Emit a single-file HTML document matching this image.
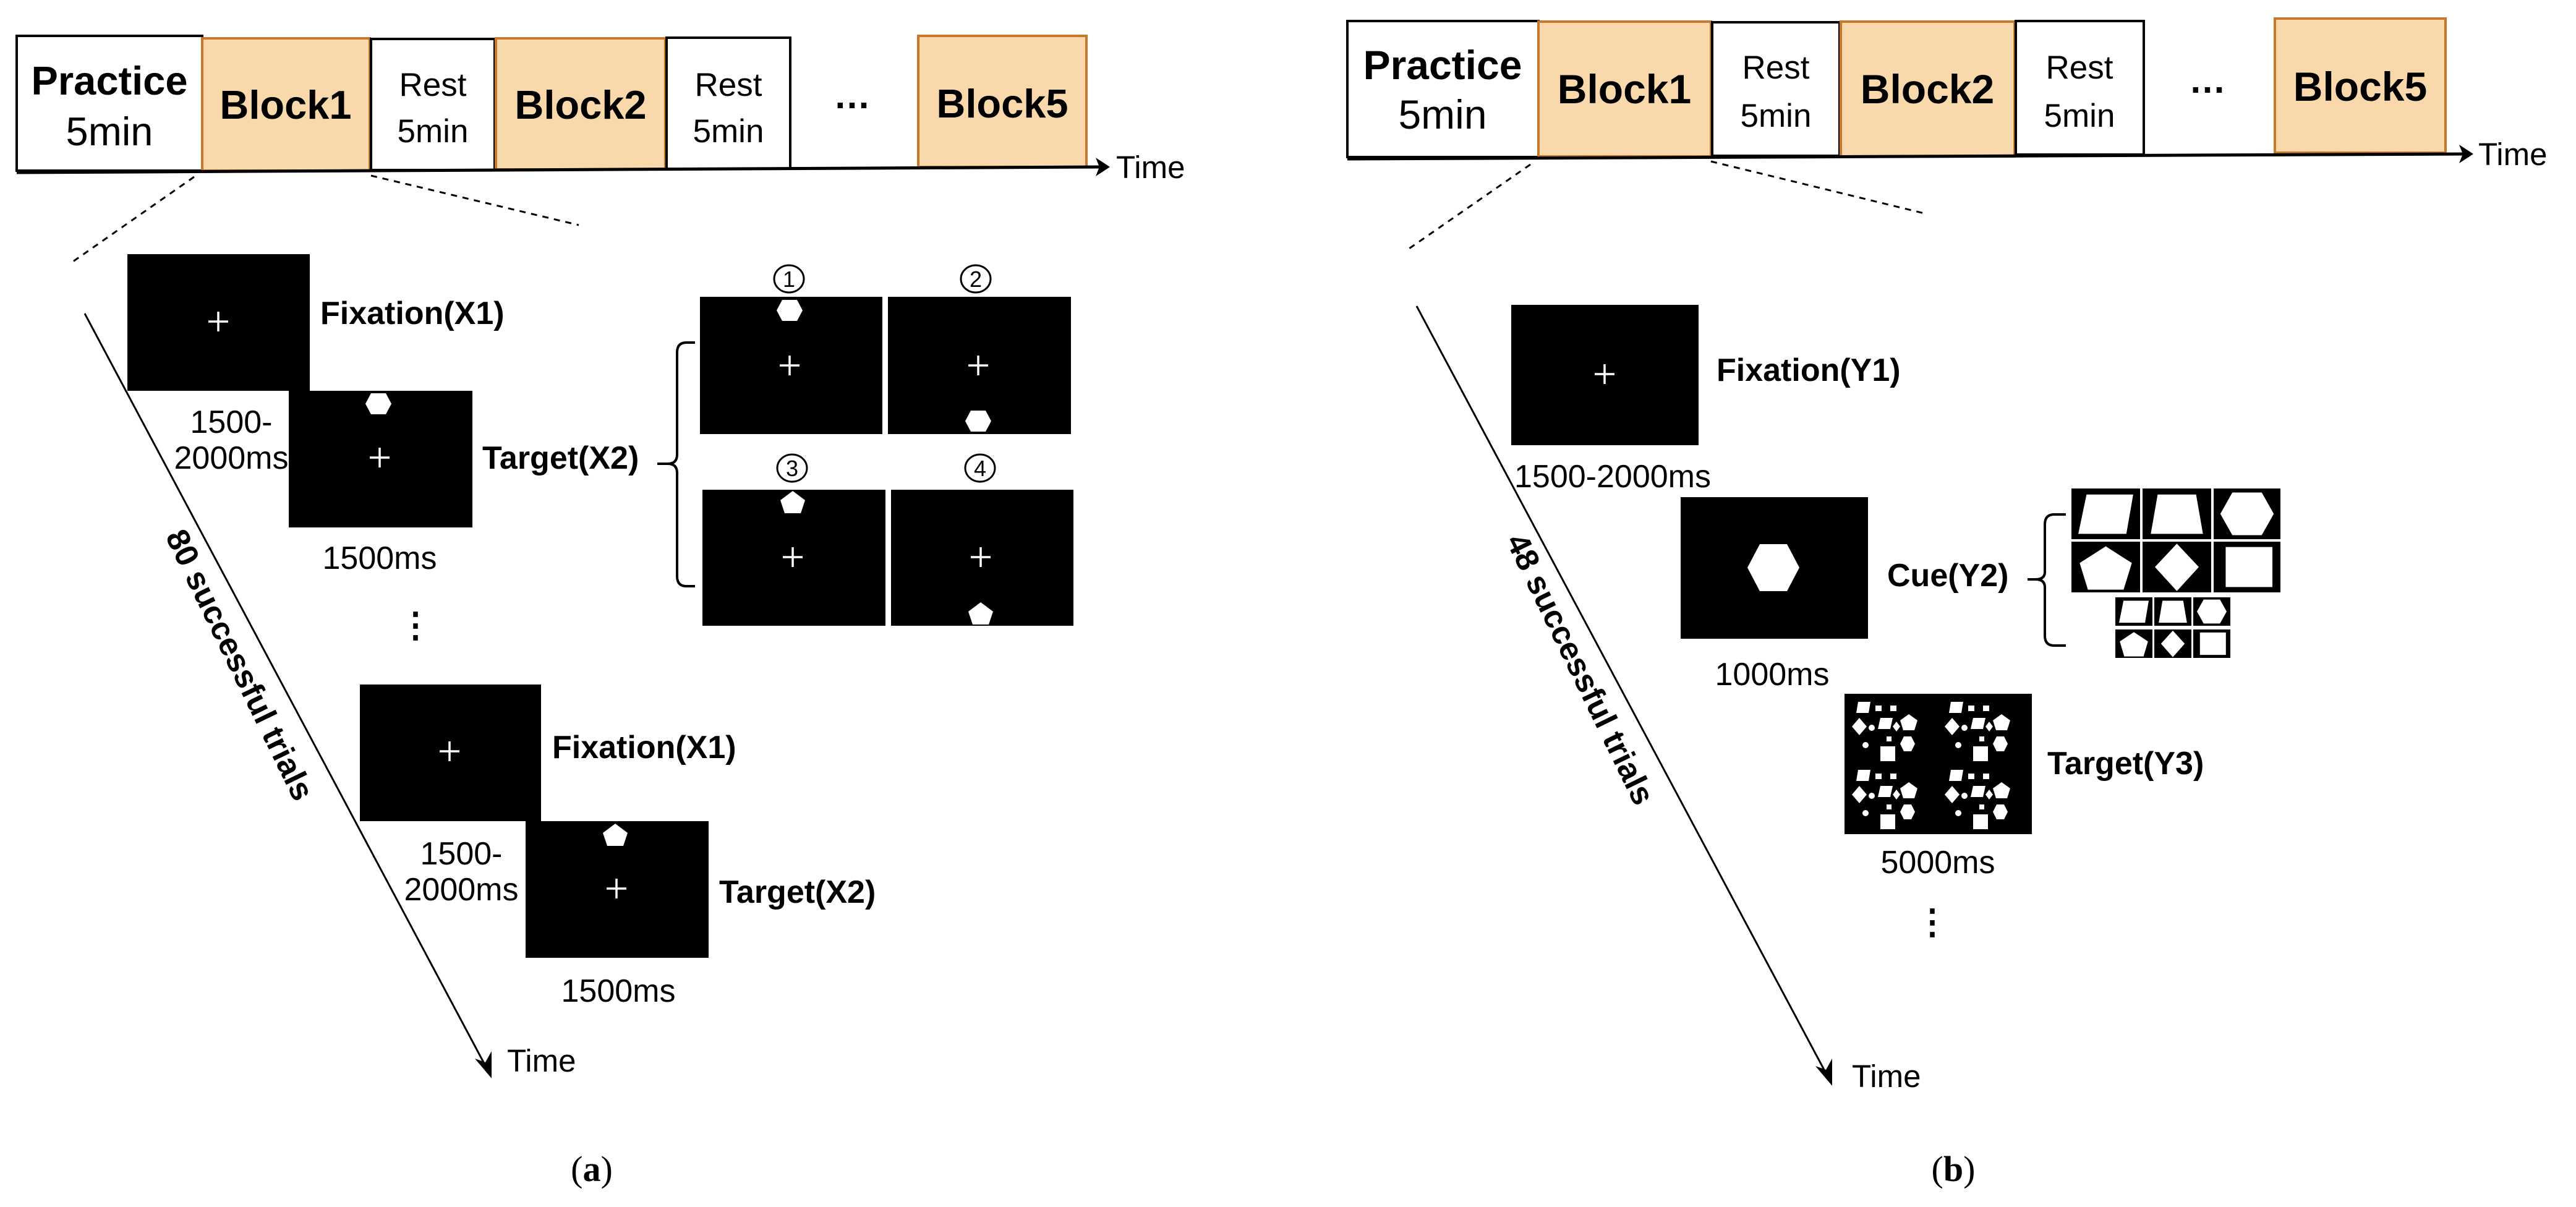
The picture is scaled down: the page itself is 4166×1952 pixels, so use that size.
<!DOCTYPE html>
<html><head><meta charset="utf-8"><style>
html,body{margin:0;padding:0;background:#fff;}
svg{display:block;}
text{font-family:"Liberation Sans",Arial,sans-serif;fill:#000;}
.b{font-weight:bold;}
.ser{font-family:"Liberation Serif",serif;}
</style></head><body>
<svg width="4166" height="1952" viewBox="0 0 4166 1952" xmlns="http://www.w3.org/2000/svg">
<defs>
<marker id="ah" viewBox="0 0 10 10" refX="9" refY="5" markerWidth="10" markerHeight="10" markerUnits="userSpaceOnUse" orient="auto">
</marker>
<g id="plus"><line x1="-16" y1="0" x2="16" y2="0" stroke="#fff" stroke-width="3.5"/><line x1="0" y1="-16" x2="0" y2="16" stroke="#fff" stroke-width="3.5"/></g>
<polygon id="hex" points="-12,-17 12,-17 21,0 12,17 -12,17 -21,0" fill="#fff"/>
<polygon id="pent" points="0,-18 20,-3 13,18 -13,18 -20,-3" fill="#fff"/>
<symbol id="c1" viewBox="0 0 100 76" preserveAspectRatio="none"><rect width="100" height="76" fill="#000"/><polygon points="22,9 90,9 80,68 10,68" fill="#fff"/></symbol>
<symbol id="c2" viewBox="0 0 100 76" preserveAspectRatio="none"><rect width="100" height="76" fill="#000"/><polygon points="22,9 78,9 88,68 12,68" fill="#fff"/></symbol>
<symbol id="c3" viewBox="0 0 100 76" preserveAspectRatio="none"><rect width="100" height="76" fill="#000"/><polygon points="28,6 72,6 90,38 72,70 28,70 10,38" fill="#fff"/></symbol>
<symbol id="c4" viewBox="0 0 100 76" preserveAspectRatio="none"><rect width="100" height="76" fill="#000"/><polygon points="50,7 88,32 76,72 24,72 12,32" fill="#fff"/></symbol>
<symbol id="c5" viewBox="0 0 100 76" preserveAspectRatio="none"><rect width="100" height="76" fill="#000"/><polygon points="50,3 82,38 50,74 18,38" fill="#fff"/></symbol>
<symbol id="c6" viewBox="0 0 100 76" preserveAspectRatio="none"><rect width="100" height="76" fill="#000"/><polygon points="18,8 88,8 88,68 18,68" fill="#fff"/></symbol>
<g id="cluster" fill="#fff">
<polygon points="10,0 30,0 27,18 7,18"/><rect x="38" y="6" width="10" height="9"/><rect x="62" y="6" width="10" height="9"/>
<polygon points="0,40 12,26 24,40 12,54"/><circle cx="32" cy="42" r="5"/><polygon points="46,26 66,26 62,44 42,44"/><polygon points="72,32 78,40 72,48 66,40"/>
<polygon points="92,20 106,30 101,46 83,46 78,30"/><circle cx="22" cy="70" r="5"/><rect x="56" y="56" width="8" height="8"/>
<polygon points="84,56 96,56 102,68 96,80 84,80 78,68"/><rect x="46" y="72" width="24" height="24"/>
</g>
</defs>

<!-- ============ LEFT (a) ============ -->
<!-- top bar -->
<rect x="27" y="58" width="300" height="218" fill="#fff" stroke="#000" stroke-width="4"/>
<rect x="327" y="62" width="271" height="214" fill="#f9d8ac" stroke="#c8782a" stroke-width="4"/>
<rect x="600" y="63" width="200" height="212" fill="#fff" stroke="#000" stroke-width="4"/>
<rect x="802" y="62" width="274" height="212" fill="#f9d8ac" stroke="#c8782a" stroke-width="4"/>
<rect x="1078" y="61" width="200" height="212" fill="#fff" stroke="#000" stroke-width="4"/>
<rect x="1485" y="58" width="272" height="212" fill="#f9d8ac" stroke="#c8782a" stroke-width="4"/>
<line x1="27" y1="279" x2="1780" y2="270" stroke="#000" stroke-width="5"/>
<polygon points="1795,270 1772,255 1778,270 1772,285" fill="#000"/>
<text x="1805" y="288" font-size="51">Time</text>
<text x="177" y="153" font-size="65" class="b" text-anchor="middle">Practice</text>
<text x="177" y="235" font-size="65" text-anchor="middle">5min</text>
<text x="462" y="192" font-size="65" class="b" text-anchor="middle">Block1</text>
<text x="700" y="155" font-size="53" text-anchor="middle">Rest</text>
<text x="700" y="230" font-size="53" text-anchor="middle">5min</text>
<text x="939" y="192" font-size="65" class="b" text-anchor="middle">Block2</text>
<text x="1178" y="155" font-size="53" text-anchor="middle">Rest</text>
<text x="1178" y="230" font-size="53" text-anchor="middle">5min</text>
<text x="1378" y="175" font-size="60" class="b" text-anchor="middle">…</text>
<text x="1621" y="190" font-size="65" class="b" text-anchor="middle">Block5</text>
<!-- dashed -->
<line x1="314" y1="286" x2="118" y2="423" stroke="#000" stroke-width="3" stroke-dasharray="10,9"/>
<line x1="600" y1="284" x2="936" y2="364" stroke="#000" stroke-width="3" stroke-dasharray="10,9"/>
<!-- time diagonal -->
<line x1="137" y1="507" x2="790" y2="1733" stroke="#000" stroke-width="3"/>
<polygon points="795,1744 768,1712 785,1718 795,1700" fill="#000"/>
<text x="820" y="1733" font-size="51">Time</text>
<text transform="translate(372,1083) rotate(64)" font-size="52" class="b" text-anchor="middle">80 successful trials</text>
<!-- trial 1 -->
<rect x="206" y="411" width="295" height="221" fill="#000"/>
<use href="#plus" x="353" y="520"/>
<text x="518" y="524" font-size="52" class="b">Fixation(X1)</text>
<rect x="467" y="632" width="297" height="221" fill="#000"/>
<use href="#hex" x="612" y="653"/>
<use href="#plus" x="614" y="740"/>
<text x="374" y="700" font-size="52" text-anchor="middle">1500-</text>
<text x="374" y="758" font-size="52" text-anchor="middle">2000ms</text>
<text x="780" y="758" font-size="52" class="b">Target(X2)</text>
<text x="614" y="920" font-size="52" text-anchor="middle">1500ms</text>
<text x="672" y="1030" font-size="56" class="b" text-anchor="middle">⋮</text>
<!-- trial 2 -->
<rect x="582" y="1107" width="293" height="221" fill="#000"/>
<use href="#plus" x="727" y="1215"/>
<text x="893" y="1226" font-size="52" class="b">Fixation(X1)</text>
<rect x="850" y="1328" width="296" height="221" fill="#000"/>
<use href="#pent" x="995" y="1350"/>
<use href="#plus" x="997" y="1437"/>
<text x="746" y="1398" font-size="52" text-anchor="middle">1500-</text>
<text x="746" y="1456" font-size="52" text-anchor="middle">2000ms</text>
<text x="1163" y="1460" font-size="52" class="b">Target(X2)</text>
<text x="1000" y="1620" font-size="52" text-anchor="middle">1500ms</text>
<!-- options -->
<path d="M1124,554 H1110 Q1095,554 1095,570 V735 Q1095,750 1080,750 H1063 M1080,750 Q1095,750 1095,765 V932 Q1095,948 1110,948 H1124" fill="none" stroke="#000" stroke-width="4"/>
<rect x="1132" y="480" width="295" height="222" fill="#000"/>
<rect x="1436" y="480" width="296" height="222" fill="#000"/>
<rect x="1136" y="792" width="296" height="220" fill="#000"/>
<rect x="1441" y="792" width="295" height="220" fill="#000"/>
<use href="#hex" x="1277" y="502"/>
<use href="#hex" x="1582" y="681"/>
<use href="#pent" x="1282" y="812"/>
<use href="#pent" x="1586" y="992"/>
<use href="#plus" x="1277" y="591"/>
<use href="#plus" x="1582" y="591"/>
<use href="#plus" x="1282" y="901"/>
<use href="#plus" x="1586" y="901"/>
<g fill="none" stroke="#000" stroke-width="3">
<ellipse cx="1276" cy="451" rx="24" ry="22"/><ellipse cx="1578" cy="451" rx="24" ry="22"/>
<ellipse cx="1281" cy="757" rx="24" ry="22"/><ellipse cx="1585" cy="757" rx="24" ry="22"/>
</g>
<g font-size="36" text-anchor="middle">
<text x="1276" y="464">1</text><text x="1578" y="464">2</text><text x="1281" y="770">3</text><text x="1585" y="770">4</text>
</g>
<text x="957" y="1910" font-size="58" class="ser" text-anchor="middle">(<tspan font-weight="bold">a</tspan>)</text>

<!-- ============ RIGHT (b) ============ -->
<rect x="2179" y="34" width="309" height="220" fill="#fff" stroke="#000" stroke-width="4"/>
<rect x="2488" y="35" width="279" height="218" fill="#f9d8ac" stroke="#c8782a" stroke-width="4"/>
<rect x="2769" y="36" width="206" height="216" fill="#fff" stroke="#000" stroke-width="4"/>
<rect x="2977" y="35" width="281" height="218" fill="#f9d8ac" stroke="#c8782a" stroke-width="4"/>
<rect x="3260" y="34" width="207" height="216" fill="#fff" stroke="#000" stroke-width="4"/>
<rect x="3679" y="30" width="276" height="217" fill="#f9d8ac" stroke="#c8782a" stroke-width="4"/>
<line x1="2179" y1="257" x2="3985" y2="249" stroke="#000" stroke-width="5"/>
<polygon points="4000,249 3977,234 3983,249 3977,264" fill="#000"/>
<text x="4008" y="267" font-size="51">Time</text>
<text x="2333" y="128" font-size="66" class="b" text-anchor="middle">Practice</text>
<text x="2333" y="208" font-size="66" text-anchor="middle">5min</text>
<text x="2627" y="167" font-size="66" class="b" text-anchor="middle">Block1</text>
<text x="2872" y="127" font-size="53" text-anchor="middle">Rest</text>
<text x="2872" y="205" font-size="53" text-anchor="middle">5min</text>
<text x="3117" y="167" font-size="66" class="b" text-anchor="middle">Block2</text>
<text x="3363" y="127" font-size="53" text-anchor="middle">Rest</text>
<text x="3363" y="205" font-size="53" text-anchor="middle">5min</text>
<text x="3570" y="150" font-size="60" class="b" text-anchor="middle">…</text>
<text x="3817" y="163" font-size="66" class="b" text-anchor="middle">Block5</text>
<line x1="2475" y1="266" x2="2276" y2="404" stroke="#000" stroke-width="3" stroke-dasharray="10,9"/>
<line x1="2767" y1="261" x2="3112" y2="345" stroke="#000" stroke-width="3" stroke-dasharray="10,9"/>
<line x1="2291" y1="495" x2="2958" y2="1745" stroke="#000" stroke-width="3"/>
<polygon points="2963,1756 2936,1724 2953,1730 2963,1712" fill="#000"/>
<text x="2995" y="1758" font-size="51">Time</text>
<text transform="translate(2540,1090) rotate(64)" font-size="52" class="b" text-anchor="middle">48 successful trials</text>
<!-- Y1 -->
<rect x="2444" y="493" width="303" height="227" fill="#000"/>
<use href="#plus" x="2595" y="605"/>
<text x="2776" y="616" font-size="52" class="b">Fixation(Y1)</text>
<text x="2608" y="788" font-size="52" text-anchor="middle">1500-2000ms</text>
<!-- Y2 -->
<rect x="2718" y="804" width="303" height="229" fill="#000"/>
<polygon points="2846,880 2890,880 2910,918 2890,956 2846,956 2826,918" fill="#fff"/>
<text x="2866" y="1108" font-size="52" text-anchor="middle">1000ms</text>
<text x="3052" y="948" font-size="52" class="b">Cue(Y2)</text>
<path d="M3341,832 H3322 Q3307,832 3307,848 V925 Q3307,937 3292,937 H3279 M3292,937 Q3307,937 3307,950 V1028 Q3307,1044 3322,1044 H3341" fill="none" stroke="#000" stroke-width="4"/>
<use href="#c1" x="3350" y="790" width="111" height="82"/>
<use href="#c2" x="3465" y="790" width="111" height="82"/>
<use href="#c3" x="3580" y="790" width="108" height="82"/>
<use href="#c4" x="3350" y="876" width="111" height="82"/>
<use href="#c5" x="3465" y="876" width="111" height="82"/>
<use href="#c6" x="3580" y="876" width="108" height="82"/>
<use href="#c1" x="3421" y="966" width="60" height="46"/>
<use href="#c2" x="3484" y="966" width="60" height="46"/>
<use href="#c3" x="3547" y="966" width="60" height="46"/>
<use href="#c4" x="3421" y="1018" width="60" height="46"/>
<use href="#c5" x="3484" y="1018" width="60" height="46"/>
<use href="#c6" x="3547" y="1018" width="60" height="46"/>
<!-- Y3 -->
<rect x="2983" y="1122" width="303" height="227" fill="#000"/>
<use href="#cluster" x="2995" y="1135"/>
<use href="#cluster" x="3145" y="1135"/>
<use href="#cluster" x="2995" y="1245"/>
<use href="#cluster" x="3145" y="1245"/>
<text x="3311" y="1252" font-size="52" class="b">Target(Y3)</text>
<text x="3134" y="1412" font-size="52" text-anchor="middle">5000ms</text>
<text x="3125" y="1510" font-size="56" class="b" text-anchor="middle">⋮</text>
<text x="3159" y="1910" font-size="58" class="ser" text-anchor="middle">(<tspan font-weight="bold">b</tspan>)</text>
</svg>
</body></html>
